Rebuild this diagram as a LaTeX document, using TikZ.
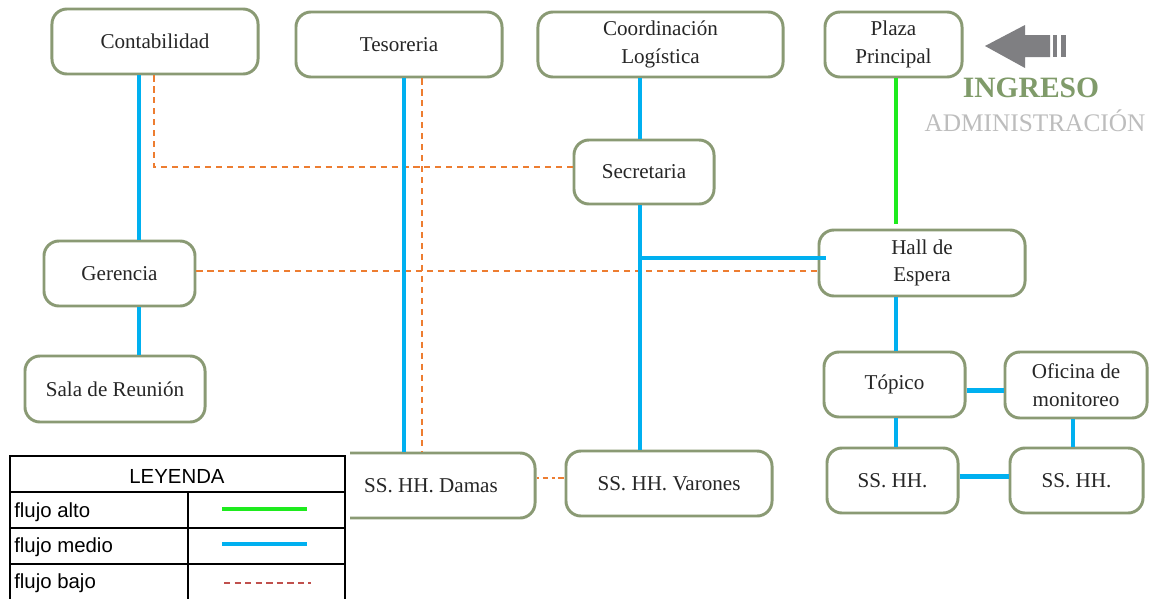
\documentclass[tikz,border=0pt]{standalone}
\usepackage{fontspec}
\setmainfont{Liberation Serif}
\setsansfont{Liberation Sans}
\usepackage{tikz}
\definecolor{AreaEdge}{HTML}{8A9A74}
\definecolor{AreaInk}{HTML}{262626}
\definecolor{FlowGreen}{HTML}{1EEB1E}
\definecolor{FlowBlue}{HTML}{00B0F0}
\definecolor{FlowOrange}{HTML}{ED7D31}
\definecolor{LegendRed}{HTML}{C0504D}
\definecolor{EntryGreen}{HTML}{809B6A}
\definecolor{EntryGray}{HTML}{BDBDBD}
\definecolor{ArrowGray}{HTML}{7F7F82}
\tikzset{
  area/.style={draw=AreaEdge,line width=2.1pt,rounded corners=3.75mm,fill=white,
    align=center,inner sep=0pt,minimum height=1.625cm,text=AreaInk,
    font=\fontsize{15}{19.8}\selectfont},
  highflow/.style={draw=FlowGreen,line width=3.5pt},
  midflow/.style={draw=FlowBlue,line width=3.5pt},
  lowflow/.style={draw=FlowOrange,line width=1.4pt,dash pattern=on 4.3pt off 3.5pt},
  legendrule/.style={draw=black,line width=0.9pt},
  legendtext/.style={anchor=west,inner sep=0pt,font=\sffamily\fontsize{14.5}{17}\selectfont}
}

\begin{document}
\begin{tikzpicture}[x=0.025cm,y=-0.025cm]
  \clip (0,0) rectangle (1163,598);
  \fill[white] (0,0) rectangle (1163,598);

  \node[area,minimum width=5.15cm] (Contabilidad) at (155,41.5) {Contabilidad};
  \node[area,minimum width=5.15cm] (Tesoreria) at (399,44.5) {Tesoreria};
  \node[area,minimum width=6.125cm] (Coordinacion) at (660.5,44.5) {Coordinación\\Logística};
  \node[area,minimum width=3.425cm] (Plaza) at (893.5,44.5) {Plaza\\Principal};
  \node[area,minimum width=3.5cm,minimum height=1.6cm] (Secretaria) at (644,172) {Secretaria};
  \node[area,minimum width=3.775cm] (Gerencia) at (119.5,273.5) {Gerencia};
  \node[area,minimum width=5.15cm,minimum height=1.65cm] (Hall) at (922,263) {Hall de\\Espera};
  \node[area,minimum width=4.5cm,minimum height=1.65cm] (Sala) at (115,389) {Sala de Reunión};
  \node[area,minimum width=3.525cm] (Topico) at (894.5,384.5) {Tópico};
  \node[area,minimum width=3.55cm,minimum height=1.65cm] (Oficina) at (1076,385) {Oficina de\\monitoreo};
  \node[area,minimum width=3.275cm] (BanoA) at (892.5,480.5) {SS. HH.};
  \node[area,minimum width=3.325cm] (BanoB) at (1076.5,480.5) {SS. HH.};
  \node[area,minimum width=5.2cm] (Damas) at (431,485.5) {SS. HH. Damas};
  \node[area,minimum width=5.15cm] (Varones) at (669,483.5) {SS. HH. Varones};

  \coordinate (colA) at (139,0);
  \coordinate (colB) at (154,0);
  \coordinate (colC) at (404,0);
  \coordinate (colD) at (422,0);
  \coordinate (colE) at (640,0);
  \coordinate (colF) at (896,0);
  \coordinate (colG) at (1073,0);

  \draw[lowflow] (Contabilidad.south -| colB) |- ([yshift=1.25mm]Secretaria.west);
  \draw[lowflow] (Tesoreria.south -| colD) -- (Damas.north -| colD);
  \draw[lowflow] ([yshift=0.6mm]Gerencia.east) -- ([yshift=0.6mm]Gerencia.east -| Hall.west);
  \draw[lowflow,dash pattern=on 2pt off 2.5pt on 4pt off 2.5pt] ([yshift=1.9mm]Damas.east) -- ([yshift=1.9mm]Damas.east -| Varones.west);

  \draw[midflow] (Contabilidad.south -| colA) -- (Gerencia.north -| colA);
  \draw[midflow] (Gerencia.south -| colA) -- (Sala.north -| colA);
  \draw[midflow] (Tesoreria.south -| colC) -- (Damas.north -| colC);
  \draw[midflow] (Coordinacion.south -| colE) -- (Secretaria.north -| colE);
  \draw[midflow] (Secretaria.south -| colE) -- (Varones.north -| colE);
  \draw[midflow] ([yshift=1.25mm]Hall.west -| colE) -- ([yshift=1.25mm,xshift=2mm]Hall.west);
  \draw[midflow] (Hall.south -| colF) -- (Topico.north -| colF);
  \draw[midflow] ([yshift=-1.4mm]Topico.east) -- ([yshift=-1.4mm]Topico.east -| Oficina.west);
  \draw[midflow] (Topico.south -| colF) -- (BanoA.north -| colF);
  \draw[midflow] (Oficina.south -| colG) -- (BanoB.north -| colG);
  \draw[midflow] ([yshift=1.1mm]BanoA.east) -- ([yshift=1.1mm]BanoA.east -| BanoB.west);
  \draw[highflow] (Plaza.south -| colF) -- ([yshift=1.25mm]Hall.north -| colF);

  \fill[ArrowGray] (985,46) -- (1025,25) -- (1025,35) -- (1050,35) -- (1050,57)
    -- (1025,57) -- (1025,68) -- cycle;
  \fill[ArrowGray] (1053,35) rectangle (1057,57);
  \fill[ArrowGray] (1061,35) rectangle (1066,57);
  \node[text=EntryGreen,font=\bfseries\fontsize{21}{24}\selectfont] (ingreso) at (1031,88) {INGRESO};
  \node[text=EntryGray,font=\fontsize{18}{20}\selectfont] (admin) at (1035,121) {ADMINISTRACIÓN};

  \fill[white] (320,448) rectangle (350,525);
  \draw[legendrule,fill=white] (10,456) rectangle (345,610);
  \draw[legendrule] (10,492) -- (345,492);
  \draw[legendrule] (10,528) -- (345,528);
  \draw[legendrule] (10,564) -- (345,564);
  \draw[legendrule] (188,492) -- (188,610);
  \node[inner sep=0pt,font=\sffamily\fontsize{14.5}{17}\selectfont] (leyenda) at (177,476) {LEYENDA};
  \node[legendtext] (alto) at (14,512) {flujo alto};
  \node[legendtext] (medio) at (14,547) {flujo medio};
  \node[legendtext] (bajo) at (14,583) {flujo bajo};
  \draw[highflow] (222,509) -- (307,509);
  \draw[midflow,line width=2.3pt] (222,544) -- (307,544);
  \draw[draw=LegendRed,line width=0.8pt,dash pattern=on 4.5pt off 3pt] (224,583) -- (311,583);
\end{tikzpicture}
\end{document}
